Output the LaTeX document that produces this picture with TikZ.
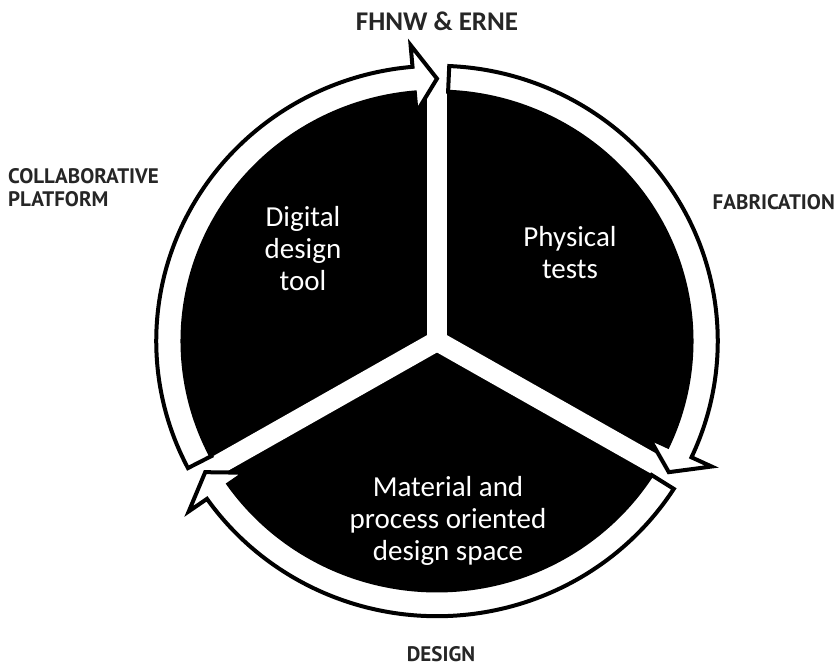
\documentclass[tikz,border=0pt]{standalone}
\usepackage{fontspec}
\setmainfont{Carlito}
\newfontfamily\sidefont{PT Sans}
\tikzset{
  ringarrowsty/.style={fill=white, draw=black, line width=4pt, line join=miter},
  gapband/.style={draw=white, line width=20pt},
  innertext/.style={text=white, font=\fontsize{29}{32}\selectfont, align=center, inner sep=0pt},
  sidelabel/.style={text=black!85, font=\sidefont\bfseries\fontsize{21}{23}\selectfont, inner sep=0pt},
}
\newcommand\myringarrow[1]{%
  \pgfmathsetmacro\tb{#1-112.5}%
  \pgfmathsetmacro\tp{#1-117.5}%
  \draw[ringarrowsty] (#1:278) arc[start angle=#1, end angle=\tb, radius=278]
     -- (\tb:300) -- (\tp:265) -- (\tb:232) -- (\tb:252)
     arc[start angle=\tb, end angle=#1, radius=252] -- cycle;}
\begin{document}
\begin{tikzpicture}[x=1.01pt,y=0.99pt]
\useasboundingbox[fill=white] (-437pt,-327pt) rectangle (399pt,341pt);
% black disc
\fill[black] (0,0) circle[radius=251];
% white gaps between sectors
\coordinate (c) at (0,0);
\draw[gapband] (c) -- (90:262);
\draw[gapband] (c) -- (210:262);
\draw[gapband] (c) -- (330:262);
% ring arrows
\myringarrow{87.5}
\myringarrow{207.5}
\myringarrow{327.5}
% inner texts
\node[innertext] (digital) at (-134pt,92pt) {Digital\\design\\tool};
\node[innertext] (physical) at (133pt,88pt) {Physical\\tests};
\node[innertext] (material) at (11pt,-180pt) {Material and\\process oriented\\design space};
% outer labels
\node[font=\bfseries\fontsize{27}{30}\selectfont, text=black!85, inner sep=0pt] (fhnw) at (0pt,320pt) {FHNW \& ERNE};
\node[sidelabel, anchor=west, align=left] (collab) at (-429pt,153pt) {COLLABORATIVE\\PLATFORM};
\node[sidelabel, anchor=east] (fabr) at (398pt,139pt) {FABRICATION};
\node[sidelabel] (design) at (4pt,-313pt) {DESIGN};
\end{tikzpicture}
\end{document}
